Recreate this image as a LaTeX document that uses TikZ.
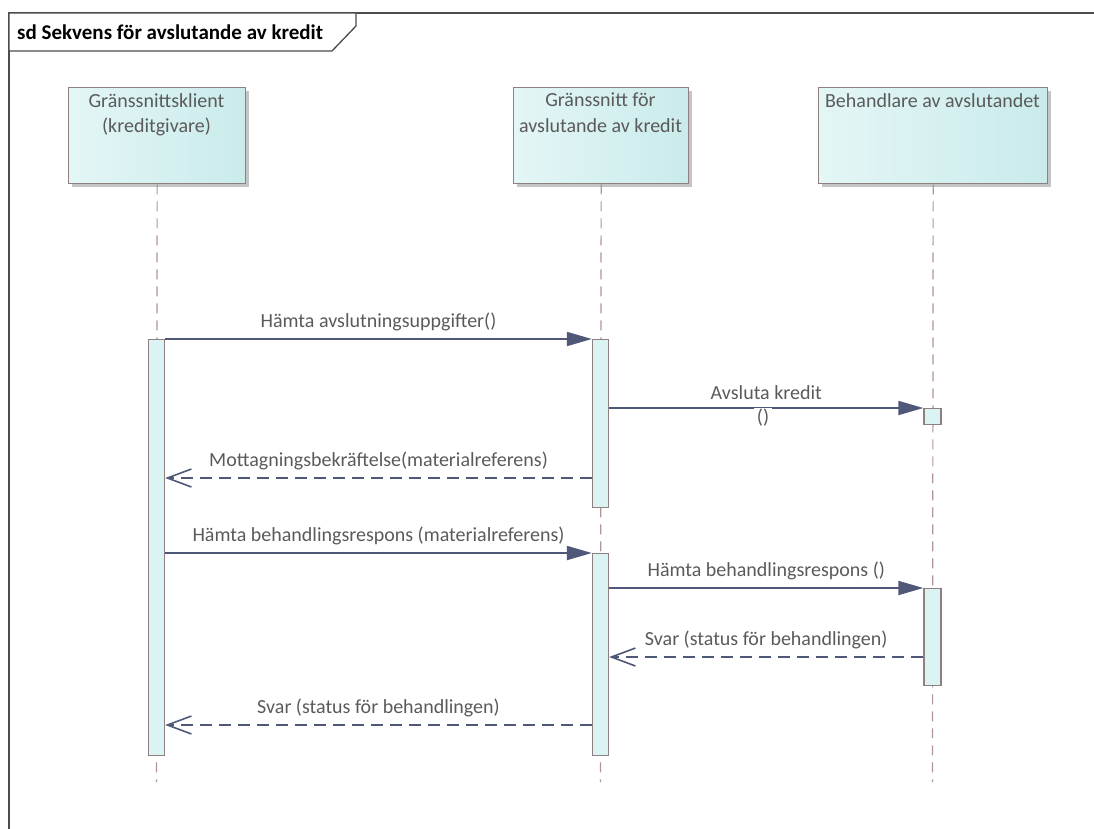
\documentclass[tikz,border=0pt]{standalone}
\usepackage{fontspec}
\setmainfont{Carlito}
\usetikzlibrary{arrows.meta,shadows}
\definecolor{txt}{HTML}{5A5A5A}
\definecolor{msg}{HTML}{4F5878}
\definecolor{bord}{HTML}{8E8080}
\definecolor{life}{HTML}{B09595}
\definecolor{boxl}{HTML}{E4F6F6}
\definecolor{boxr}{HTML}{CAEBEB}
\definecolor{actf}{HTML}{DCF3F4}
\tikzset{
  lbox/.style={draw=bord, line width=1.3pt, left color=boxl, right color=boxr,
    minimum height=96pt, anchor=north west, inner sep=0pt,
    drop shadow={shadow xshift=3.5pt, shadow yshift=-3.5pt, fill=black!45, opacity=0.5}},
  lbl/.style={text=txt, font=\fontsize{20}{25.5}\selectfont, inner sep=0pt, align=center},
  lifeln/.style={draw=life, line width=1.2pt, dash pattern=on 10pt off 7pt},
  actbar/.style={draw=bord, fill=actf, line width=1.3pt, minimum width=16pt, inner sep=0pt, anchor=north},
  callmsg/.style={draw=msg, line width=1.8pt, -{Triangle[length=25pt,width=14pt]}},
  retmsg/.style={draw=msg, line width=1.8pt, dash pattern=on 12pt off 7pt, -{Straight Barb[length=24pt,width=18pt,line width=1.6pt]}},
}
\begin{document}
\begin{tikzpicture}[x=1pt,y=-1pt]
\useasboundingbox (0,0) rectangle (1094,828);
\clip (0,0) rectangle (1094,828);
% frame
\draw[draw=black!70, line width=1.3pt] (9,840) -- (9,13) -- (1110,13);
\draw[draw=black!70, line width=1.3pt, fill=white] (9,13) -- (356,13) -- (356,26) -- (332,51) -- (9,51) -- cycle;
\node[anchor=west, font=\bfseries\fontsize{21}{24}\selectfont, inner sep=0pt] (title) at (17,32) {sd Sekvens för avslutande av kredit};

% lifeline heads
\node[lbox, minimum width=177pt] (L1) at (68,87) {};
\node[lbox, minimum width=175pt] (L2) at (513,87) {};
\node[lbox, minimum width=229pt] (L3) at (818,87) {};
\node[lbl, anchor=north] (L1t) at (156.5,93) {Gränssnittsklient\\(kreditgivare)};
\node[lbl, anchor=north] (L2t) at (600.5,93) {Gränssnitt för\\avslutande av kredit};
\node[lbl, anchor=north] (L3t) at (932.5,93) {Behandlare av avslutandet};

% lifelines
\coordinate (E1) at (156.5,782);
\coordinate (E2) at (600.5,782);
\coordinate (E3) at (932.5,782);
\draw[lifeln] (L1.south) -- (E1);
\draw[lifeln] (L2.south) -- (E2);
\draw[lifeln] (L3.south) -- (E3);

% activations
\node[actbar, minimum height=416pt] (A1) at (156.5,339) {};
\node[actbar, minimum height=168pt] (A2) at (600.5,339) {};
\node[actbar, minimum height=16pt, minimum width=17pt] (A3) at (932.5,408) {};
\node[actbar, minimum height=202pt] (A4) at (600.5,553) {};
\node[actbar, minimum height=97pt, minimum width=17pt] (A5) at (932.5,588) {};

% messages
\draw[callmsg] (A1.north east) -- (A2.north west) node[lbl, midway, above=7pt] (m1) {Hämta avslutningsuppgifter()};
\draw[callmsg] (A2.east |- A3.north) -- (A3.north west) node[lbl, midway, above=7pt] (m2) {Avsluta kredit};
\node[lbl, fill=white, inner xsep=3pt, inner ysep=1pt] (m2b) at (763,418) {()};
\coordinate (r1) at (0,478);
\draw[retmsg] (A2.west |- r1) -- (A1.east |- r1) node[lbl, midway, above=7pt] (m3) {Mottagningsbekräftelse(materialreferens)};
\draw[callmsg] (A1.east |- A4.north) -- (A4.north west) node[lbl, midway, above=7pt] (m4) {Hämta behandlingsrespons (materialreferens)};
\draw[callmsg] (A4.east |- A5.north) -- (A5.north west) node[lbl, midway, above=7pt] (m5) {Hämta behandlingsrespons ()};
\coordinate (r2) at (0,657);
\draw[retmsg] (A5.west |- r2) -- (A4.east |- r2) node[lbl, midway, above=7pt] (m6) {Svar (status för behandlingen)};
\coordinate (r3) at (0,725);
\draw[retmsg] (A4.west |- r3) -- (A1.east |- r3) node[lbl, midway, above=7pt] (m7) {Svar (status för behandlingen)};
\end{tikzpicture}
\end{document}
